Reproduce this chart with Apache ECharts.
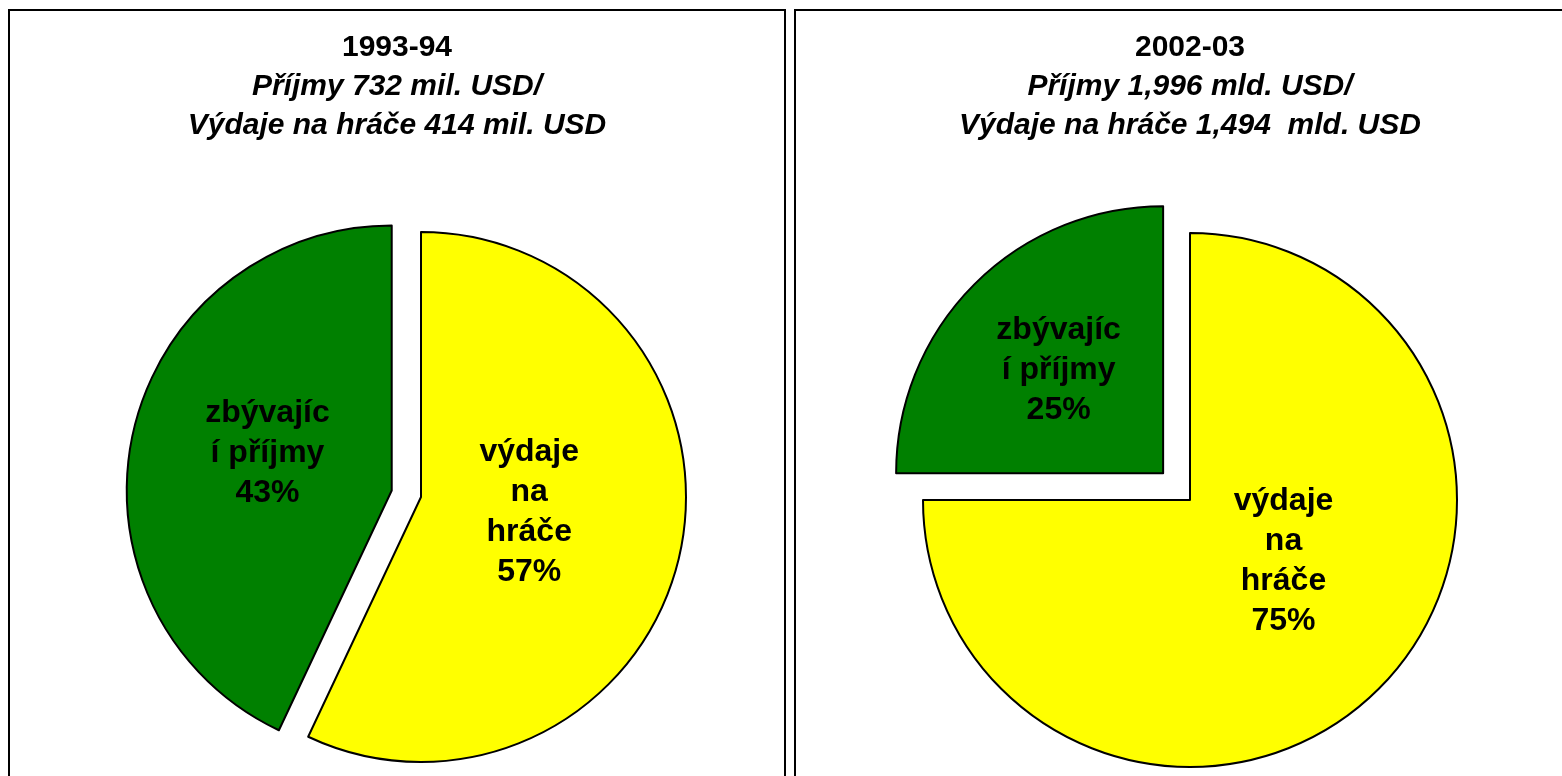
<!DOCTYPE html>
<html>
<head>
<meta charset="utf-8">
<title>Příjmy a výdaje na hráče</title>
<style>
  html, body { margin: 0; padding: 0; background: #fff; }
  #chart { width: 1562px; height: 776px; }
</style>
<script src="https://cdn.jsdelivr.net/npm/echarts@6/dist/echarts.min.js"></script>
</head>
<body>
<div id="chart"></div>
<script>
// data
var seasons = ['1993-94', '2002-03'];
var incomeLines = ['Příjmy 732 mil. USD/', 'Příjmy 1,996 mld. USD/'];
var spendLines = ['Výdaje na hráče 414 mil. USD', 'Výdaje na hráče 1,494  mld. USD'];
var sliceNames = ['výdaje na hráče', 'zbývající příjmy'];
var sliceLabels = ['výdaje\nna\nhráče', 'zbývajíc\ní příjmy'];
var share1993 = [57, 43];
var share2002 = [75, 25];

var colors = ['#ffff00', '#008000'];
var font = "'Liberation Sans', Arial, sans-serif";

// posun popisku uvnitr vysece [dx, dy]
var labelShift = [
    [[-24, -14], [8, -8]],
    [[-3, -35], [-8, -6]]
];

function pieData(values) {
    return values.map(function (v, i) {
        return {
            name: sliceNames[i],
            value: v,
            selected: i === 1,
            itemStyle: { color: colors[i] },
            select: { itemStyle: { color: colors[i], borderColor: '#000', borderWidth: 2 } }
        };
    });
}

function pieSeries(values, k, center, radius, offset) {
    return {
        type: 'pie',
        center: center,
        radius: radius,
        startAngle: 90,
        clockwise: true,
        selectedMode: 'single',
        selectedOffset: offset,
        avoidLabelOverlap: false,
        itemStyle: { borderColor: '#000', borderWidth: 2 },
        emphasis: { disabled: true },
        label: {
            show: true,
            position: 'inside',
            color: '#000',
            fontFamily: font,
            fontWeight: 'bold',
            fontSize: 32,
            lineHeight: 40,
            align: 'center',
            formatter: function (p) {
                return sliceLabels[p.dataIndex] + '\n' + p.value + '%';
            }
        },
        labelLayout: function (p) {
            var s = labelShift[k][p.dataIndex];
            return { dx: s[0], dy: s[1] };
        },
        labelLine: { show: false },
        data: pieData(values)
    };
}

function titleFor(i, x) {
    return {
        text: '{a|' + seasons[i] + '}\n{b|' + incomeLines[i] + '}\n{b|' + spendLines[i] + '}',
        left: x,
        top: 28,
        padding: 0,
        textAlign: 'center',
        textStyle: {
            rich: {
                a: { fontFamily: font, fontWeight: 'bold', fontSize: 30, lineHeight: 39, color: '#000', align: 'center' },
                b: { fontFamily: font, fontWeight: 'bold', fontStyle: 'italic', fontSize: 30, lineHeight: 39, color: '#000', align: 'center' }
            }
        }
    };
}

var chart = echarts.init(document.getElementById('chart'));
var option = {
    animation: false,
    backgroundColor: '#fff',
    title: [titleFor(0, 397), titleFor(1, 1190)],
    graphic: [
        { type: 'rect', shape: { x: 9, y: 10, width: 776, height: 800 }, style: { fill: 'none', stroke: '#000', lineWidth: 2 } },
        { type: 'rect', shape: { x: 795, y: 10, width: 800, height: 800 }, style: { fill: 'none', stroke: '#000', lineWidth: 2 } }
    ],
    series: [
        pieSeries(share1993, 0, [421, 497], 265, 30),
        pieSeries(share2002, 1, [1190, 500], 267, 38)
    ]
};
chart.setOption(option);
</script>
</body>
</html>
